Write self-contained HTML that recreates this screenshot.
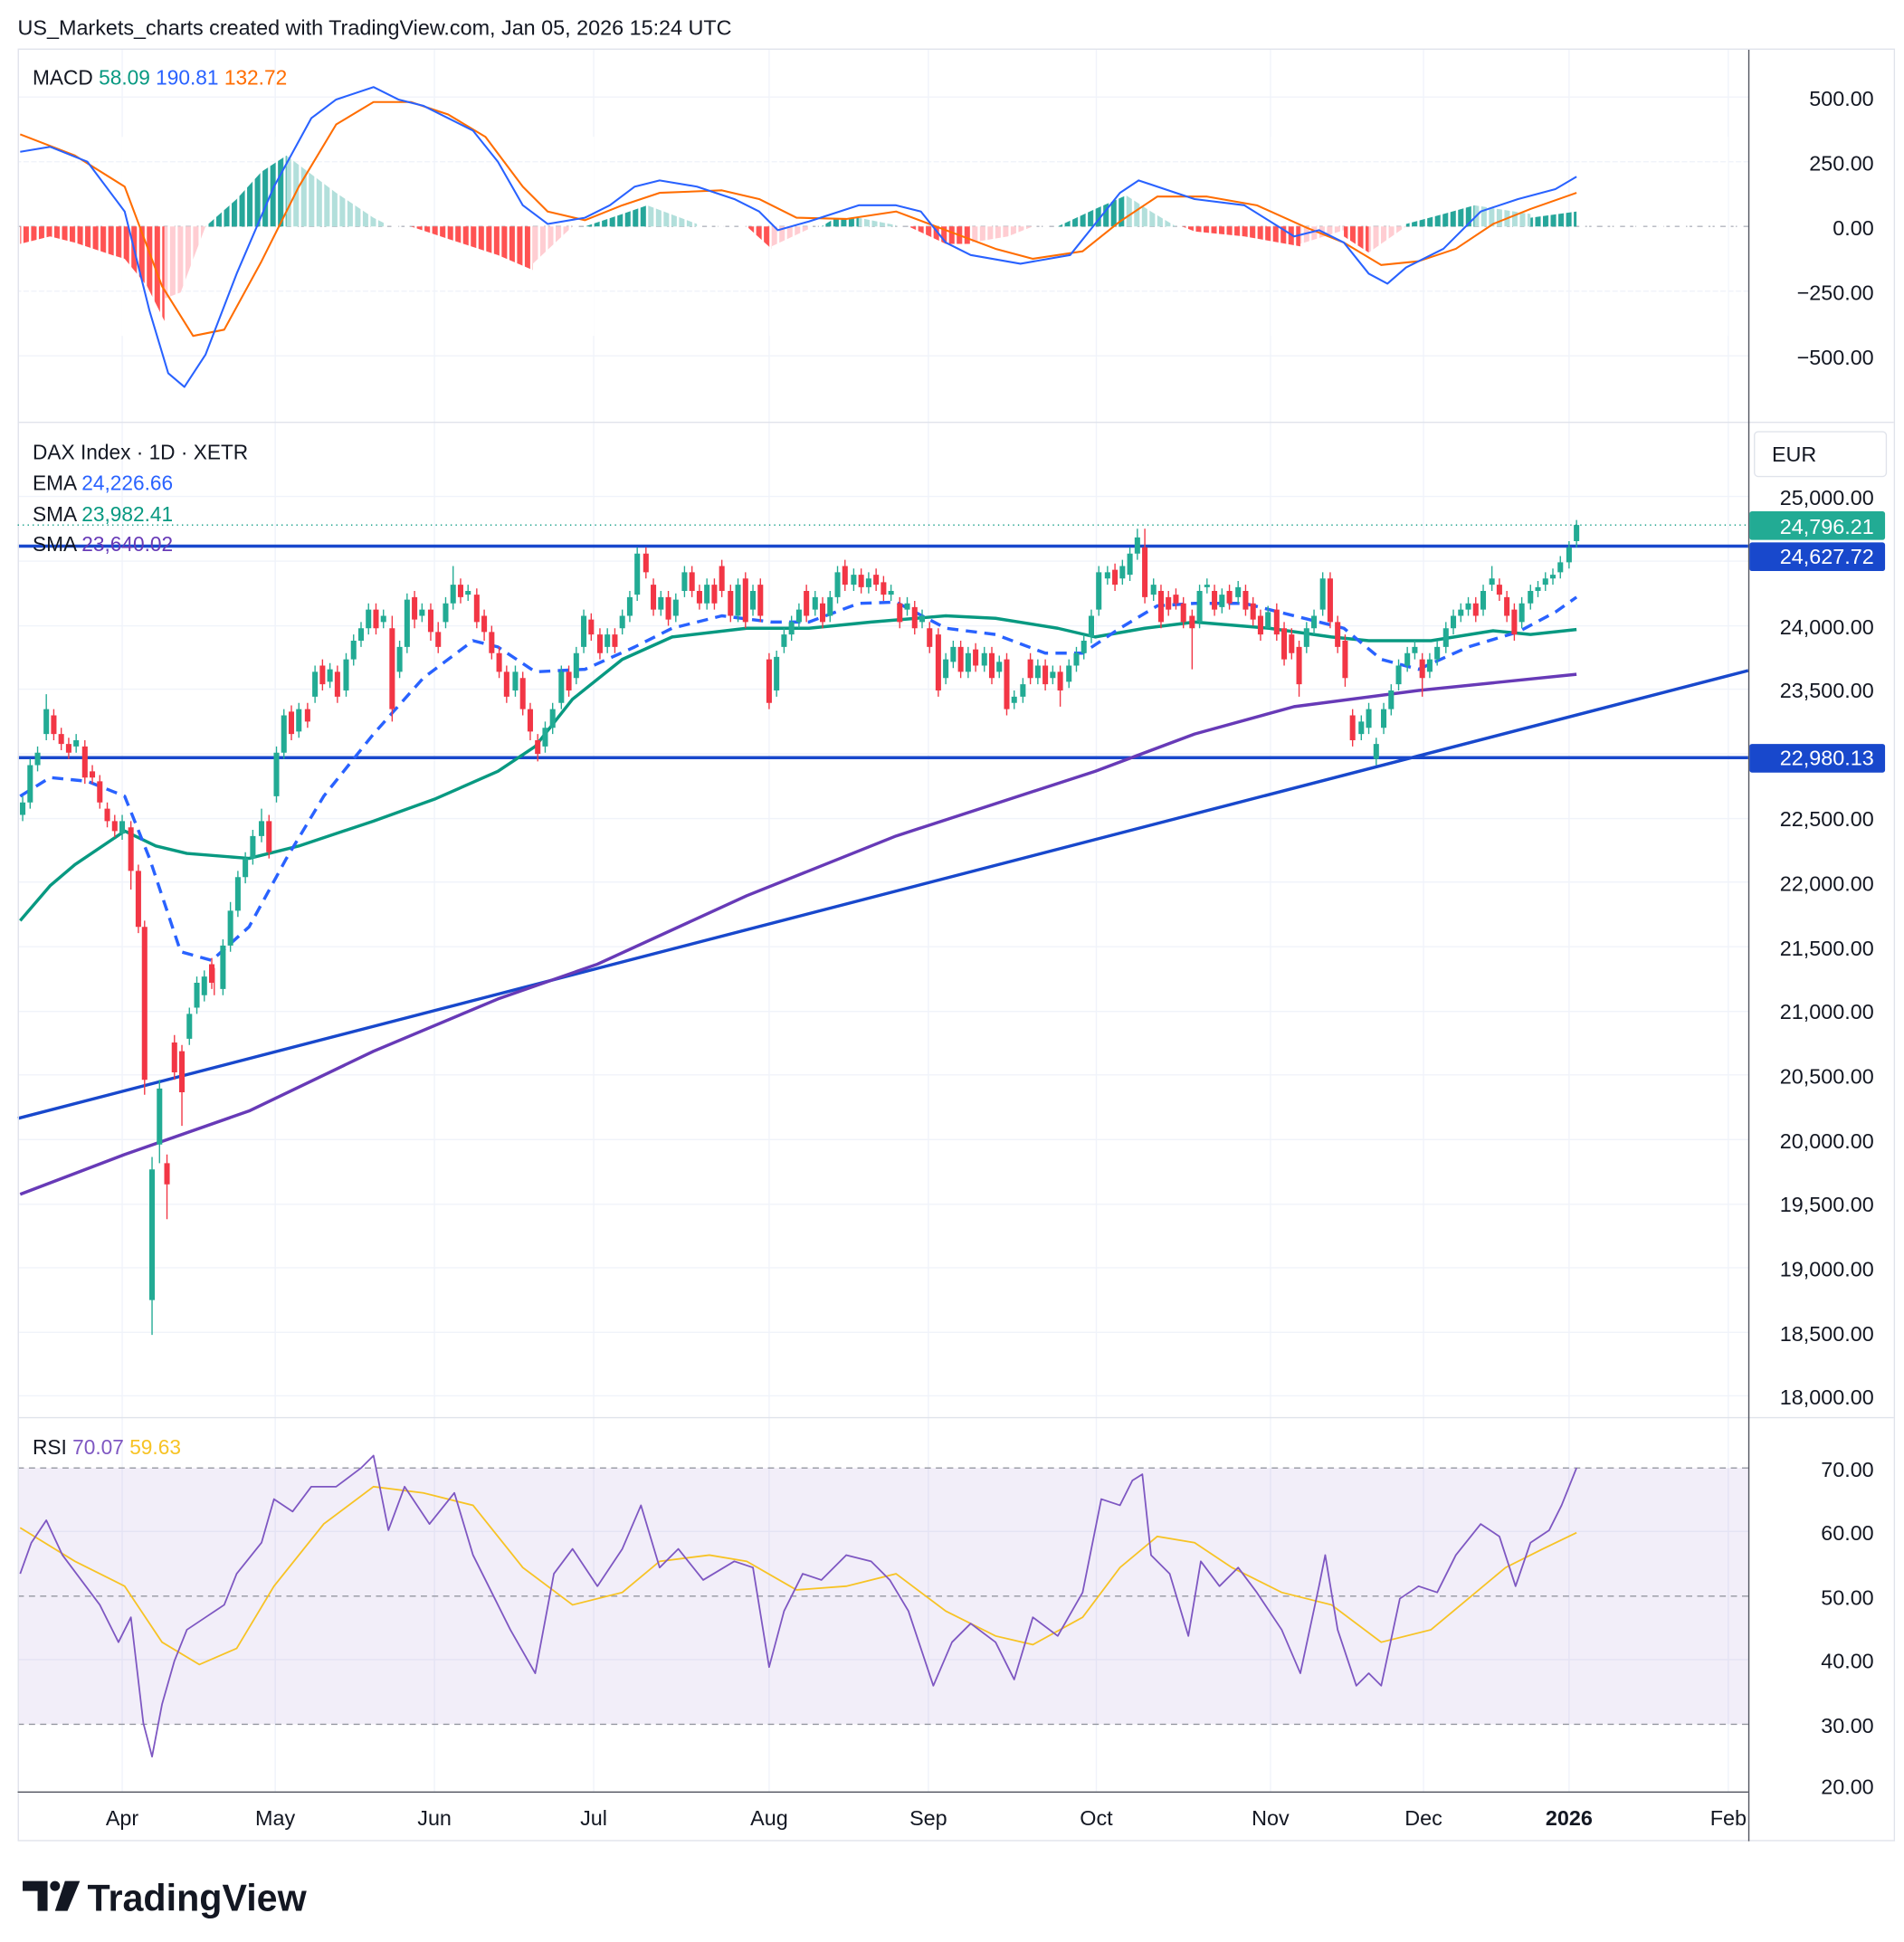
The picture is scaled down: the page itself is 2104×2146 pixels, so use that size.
<!DOCTYPE html>
<html><head><meta charset="utf-8"><style>
html,body{margin:0;padding:0;background:#fff;}
svg{display:block;}
text{font-family:"Liberation Sans",sans-serif;}
</style></head><body>
<svg width="2104" height="2146" viewBox="0 0 1530 1561" xmlns="http://www.w3.org/2000/svg">
<defs>
<pattern id="gap" x="0" y="0" width="6.2" height="10" patternUnits="userSpaceOnUse"><rect x="4.4" y="0" width="1.8" height="10" fill="#fff"/></pattern>
</defs>
<rect width="1530" height="1561" fill="#fff"/>
<g stroke="#f0f3fa" stroke-width="1">
<path d="M98 40V1440M221 40V1440M349 40V1440M477 40V1440M618 40V1440M746 40V1440M881 40V1440M1021 40V1440M1144 40V1440M1261 40V1440M1389 40V1440"/>
<path d="M14 78H1405M14 130H1405M14 234H1405M14 286H1405M14 399H1405M14 451H1405M14 503H1405M14 554H1405M14 606H1405M14 658H1405M14 709H1405M14 761H1405M14 813H1405M14 864H1405M14 916H1405M14 968H1405M14 1019H1405M14 1071H1405M14 1122H1405M14 1231H1405M14 1334H1405"/>
</g>
<rect x="14" y="1180" width="1391" height="206" fill="#7e57c2" fill-opacity="0.1"/>
<g stroke="#9598a1" stroke-dasharray="5,4" stroke-width="1">
<line x1="14" y1="1180" x2="1405" y2="1180"/><line x1="14" y1="1283" x2="1405" y2="1283"/><line x1="14" y1="1386" x2="1405" y2="1386"/>
<line x1="14" y1="182" x2="1405" y2="182" stroke="#b2b5be"/>
</g>
<!-- MACD histogram -->
<g>
<polygon fill="#ff5252" points="16,182 16,196 40,190 60,195 90,205 100,208 118,230 132,258 132,182"/>
<polygon fill="#ffcdd2" points="132,182 132,240 145,235 165,182"/>
<polygon fill="#26a69a" points="165,182 190,160 210,138 230,125 230,182"/>
<polygon fill="#b2dfdb" points="230,182 230,125 250,140 270,155 300,175 310,180 310,182"/>
<polygon fill="#ff5252" points="330,182 360,192 400,205 428,217 428,182"/>
<polygon fill="#ffcdd2" points="428,182 428,212 460,182"/>
<polygon fill="#26a69a" points="470,182 500,172 520,165 520,182"/>
<polygon fill="#b2dfdb" points="520,182 520,165 560,180 560,182"/>
<polygon fill="#ff5252" points="600,182 620,200 620,182"/>
<polygon fill="#ffcdd2" points="620,182 620,198 650,184 650,182"/>
<polygon fill="#26a69a" points="660,182 670,176 690,175 690,182"/>
<polygon fill="#b2dfdb" points="690,182 690,175 720,181 720,182"/>
<polygon fill="#ff5252" points="730,182 760,196 780,196 780,182"/>
<polygon fill="#ffcdd2" points="780,182 780,195 810,190 830,182"/>
<polygon fill="#26a69a" points="850,182 880,168 905,157 905,182"/>
<polygon fill="#b2dfdb" points="905,182 905,157 925,170 945,182"/>
<polygon fill="#ff5252" points="950,182 960,186 1000,190 1045,198 1045,182"/>
<polygon fill="#ffcdd2" points="1045,182 1045,196 1080,185 1080,182"/>
<polygon fill="#ff5252" points="1080,182 1080,190 1100,203 1100,182"/>
<polygon fill="#ffcdd2" points="1100,182 1100,203 1130,182"/>
<polygon fill="#26a69a" points="1130,182 1130,180 1160,172 1185,165 1185,182"/>
<polygon fill="#b2dfdb" points="1185,182 1185,165 1230,172 1230,182"/>
<polygon fill="#26a69a" points="1230,182 1230,175 1267,170 1267,182"/>
<rect x="14" y="110" width="1391" height="160" fill="url(#gap)"/>
</g>
<g fill="none" stroke-linejoin="round">
<polyline stroke="#ff6d00" stroke-width="1.5" points="16,108 60,125 100,150 130,230 155,270 180,265 210,210 240,150 270,100 300,82 330,82 360,92 390,110 420,150 440,170 470,177 500,165 530,155 580,153 610,160 640,175 680,176 720,170 760,185 800,200 830,208 870,202 900,178 930,158 970,158 1010,165 1050,183 1080,195 1110,213 1140,210 1170,200 1200,180 1230,168 1267,155"/>
<polyline stroke="#2962ff" stroke-width="1.5" points="16,122 40,118 70,130 100,170 120,250 135,300 148,311 165,285 190,220 220,150 250,95 270,80 300,70 320,80 340,85 360,95 380,105 400,130 420,165 440,180 470,175 490,165 510,150 530,145 560,150 590,160 610,170 625,185 650,178 690,165 720,165 740,170 760,195 780,205 820,212 860,205 880,180 900,155 915,145 930,150 960,160 1000,165 1040,190 1060,185 1080,195 1100,220 1115,228 1130,215 1160,200 1190,170 1220,160 1250,152 1267,142"/>
<!-- main pane lines -->
<line x1="14" y1="439" x2="1405" y2="439" stroke="#1848cc" stroke-width="2.5"/>
<line x1="14" y1="609" x2="1405" y2="609" stroke="#1848cc" stroke-width="2.5"/>
<line x1="14" y1="899" x2="1405" y2="539" stroke="#1848cc" stroke-width="2.5"/>
<polyline stroke="#673ab7" stroke-width="2.5" points="16,960 100,928 200,893 300,845 400,803 480,775 600,720 720,672 880,620 960,590 1040,568 1140,555 1267,542"/>
<polyline stroke="#089981" stroke-width="2.5" points="16,740 40,712 60,695 100,668 125,680 150,686 200,690 240,680 300,660 350,642 400,620 430,600 460,562 500,530 540,512 600,505 650,505 700,500 760,495 800,497 850,505 880,512 920,505 960,500 1020,505 1070,512 1100,515 1150,515 1200,507 1230,510 1267,506"/>
<polyline stroke="#2962ff" stroke-width="2.5" stroke-dasharray="9,6" points="16,640 40,625 70,628 100,640 120,690 145,765 170,772 200,745 230,690 260,640 300,590 340,545 380,515 400,520 430,540 470,538 510,520 540,505 580,495 620,500 650,500 690,485 720,484 760,505 800,510 840,525 870,525 900,505 930,487 960,485 1000,485 1040,495 1080,505 1110,530 1140,538 1180,520 1220,508 1250,492 1267,480"/>
</g>
<!-- candles: wicks -->
<path stroke="#22ab94" stroke-width="1" fill="none" d="M18 640V660M24 610V650M30 600V620M37 558V595M61 590V605M98 655V675M122 930V1073M128 868V935M152 810V840M158 785V815M164 780V805M179 755V800M185 725V765M191 700V737M197 685V710M203 667V695M210 650V677M222 600V645M228 570V610M240 565V593M253 535V565M265 533V553M278 525V560M284 510V535M290 500V520M296 485V510M308 490V505M321 515V545M327 477V525M339 485V500M358 480V505M364 455V490M376 470V483M414 535V560M438 580V605M444 565V590M451 535V570M463 520V550M469 490V525M488 505V525M500 490V510M506 475V500M512 440V483M531 475V495M543 477V500M550 455V480M568 465V490M593 465V500M605 470V495M624 523V560M630 505V525M636 495V515M642 485V505M655 475V495M667 475V500M673 455V485M686 457V475M698 460V477M716 470V483M729 480V495M741 490V505M760 525V550M766 515V537M778 520V545M791 520V540M803 527V545M815 555V570M822 545V565M834 530V550M846 535V550M859 530V553M865 520V540M871 510V530M877 490V517M883 455V495M890 455V470M902 450V470M908 440V467M914 425V450M927 465V483M964 470V505M970 465V477M982 473V493M995 467V485M1019 487V500M1050 500V525M1056 490V510M1063 460V495M1094 575V595M1100 565V590M1106 593V615M1112 565V590M1118 550V575M1124 530V555M1131 520V540M1137 515V530M1149 525V545M1155 515V535M1162 500V525M1168 490V510M1174 485V500M1180 480V495M1192 470V495M1199 455V475M1223 480V505M1230 470V490M1236 467V480M1242 460V475M1248 457V470M1254 447V465M1261 435V457M1267 418V440"/>
<path stroke="#f23645" stroke-width="1" fill="none" d="M43 570V595M49 585V603M55 593V610M68 595V630M74 615V630M80 623V650M86 645V665M92 655V673M105 660V715M111 695V750M116 740V880M134 928V980M140 832V868M146 840V905M170 770V795M172 778V800M216 655V690M234 567V595M247 565V585M259 530V555M271 535V565M302 485V510M315 495V580M333 475V505M346 485V515M352 500V525M370 465V485M383 473V505M389 490V515M395 503V530M401 520V545M407 535V565M420 540V575M426 565V595M432 590V612M457 535V560M475 493V515M482 505V530M494 505V525M519 440V465M525 465V495M537 475V503M556 455V480M562 470V490M574 465V490M580 450V480M587 470V500M599 460V505M611 465V500M618 525V570M648 470V500M661 480V505M679 450V475M692 457V477M704 457V475M710 463V483M723 480V505M735 483V510M747 500V525M754 505V560M772 515V545M784 517V540M797 520V550M809 525V575M828 525V550M840 530V555M852 535V568M896 453V475M920 425V485M933 470V505M939 475V495M945 473V490M951 480V505M958 490V538M976 470V495M988 470V490M1001 470V495M1007 480V503M1013 490V515M1026 485V515M1032 500V535M1038 505V530M1044 515V560M1069 460V505M1075 495V525M1081 510V552M1087 570V600M1143 525V560M1186 480V500M1205 465V483M1211 475V500M1217 485V515"/>
<!-- bodies -->
<path stroke="#22ab94" stroke-width="4.4" fill="none" d="M18 655V645M24 645V615M30 615V605M37 590V570M61 600V595M98 670V660M122 1045V940M128 920V875M152 835V815M158 810V790M164 800V785M179 795V760M185 760V732M191 732V705M197 705V690M203 690V672M210 672V660M222 640V605M228 605V575M240 588V570M253 560V540M265 548V538M278 555V530M284 530V515M290 515V505M296 505V490M308 500V495M321 540V520M327 520V482M339 495V490M358 500V485M364 485V470M376 478V475M414 555V540M438 600V585M444 585V570M451 565V540M463 545V525M469 520V495M488 520V510M500 505V495M506 495V480M512 478V445M531 490V480M543 495V482M550 475V460M568 485V470M593 495V470M605 490V475M624 555V528M630 520V510M636 510V500M642 500V490M655 490V480M667 495V480M673 480V460M686 470V462M698 472V465M716 478V475M729 490V485M741 500V495M760 545V530M766 532V520M778 540V525M791 535V525M803 540V532M815 565V560M822 560V550M834 545V535M846 545V540M859 548V535M865 535V525M871 525V515M877 512V495M883 490V460M890 465V460M902 465V455M908 462V445M914 445V432M927 478V470M964 500V475M970 472V470M982 488V478M995 480V472M1019 505V492M1050 520V505M1056 505V495M1063 490V465M1094 590V580M1100 585V570M1106 610V598M1112 585V570M1118 570V555M1124 550V535M1131 535V525M1137 525V520M1149 540V530M1155 530V520M1162 520V505M1168 505V495M1174 495V490M1180 490V485M1192 490V475M1199 470V465M1223 500V485M1230 485V475M1236 475V472M1242 470V465M1248 465V462M1254 460V452M1261 452V440M1267 435V422"/>
<path stroke="#f23645" stroke-width="4.4" fill="none" d="M43 575V590M49 590V598M55 598V605M68 600V625M74 620V625M80 628V645M86 650V660M92 660V668M105 665V700M111 700V745M116 745V868M134 935V952M140 838V862M146 845V878M170 775V790M216 660V685M234 572V590M247 570V580M259 535V550M271 540V560M302 490V505M315 505V570M333 480V498M346 490V508M352 508V520M370 470V480M383 478V500M389 495V508M395 508V525M401 525V540M407 540V560M420 545V570M426 570V588M432 595V606M457 540V555M475 498V510M482 510V525M494 510V520M519 445V460M525 470V490M537 480V498M556 460V475M562 475V485M574 470V485M580 455V475M587 475V495M599 465V500M611 470V495M618 530V565M648 475V495M661 485V500M679 455V470M692 462V472M704 462V470M710 468V478M723 485V500M735 488V505M747 505V520M754 510V555M772 520V540M784 522V535M797 525V545M809 530V570M828 530V545M840 535V550M852 540V555M896 458V470M920 440V480M933 475V500M939 480V490M945 478V485M951 485V500M958 495V505M976 475V490M988 475V485M1001 475V490M1007 485V498M1013 495V510M1026 490V510M1032 505V530M1038 510V525M1044 520V550M1069 465V500M1075 500V520M1081 515V545M1087 575V595M1143 530V545M1186 485V495M1205 470V478M1211 480V495M1217 490V510"/>
<!-- RSI -->
<polyline fill="none" stroke="#f7c325" stroke-width="1.3" points="16,1228 60,1255 100,1275 130,1320 160,1338 190,1325 220,1275 260,1225 300,1195 340,1200 380,1210 420,1260 460,1290 500,1280 530,1255 570,1250 600,1255 640,1278 680,1275 720,1265 760,1295 800,1315 830,1322 870,1300 900,1260 930,1235 960,1240 990,1260 1030,1280 1070,1290 1110,1320 1150,1310 1180,1285 1210,1260 1240,1245 1267,1232"/>
<polyline fill="none" stroke="#7e57c2" stroke-width="1.3" stroke-linejoin="round" points="16,1265 25,1240 37,1222 50,1250 65,1270 80,1290 95,1320 105,1300 115,1385 122,1412 130,1370 140,1335 150,1310 165,1300 180,1290 190,1265 210,1240 220,1205 235,1215 250,1195 270,1195 290,1180 300,1170 312,1230 325,1195 345,1225 365,1200 380,1250 395,1280 410,1310 430,1345 445,1265 460,1245 480,1275 500,1245 515,1210 530,1260 545,1245 565,1270 590,1255 605,1260 618,1340 630,1295 645,1265 660,1270 680,1250 700,1255 715,1270 730,1295 750,1355 765,1320 780,1305 800,1320 815,1350 830,1300 850,1315 870,1280 885,1205 900,1210 910,1190 918,1185 925,1250 940,1265 955,1315 965,1255 980,1275 995,1260 1010,1280 1030,1310 1045,1345 1060,1275 1065,1250 1075,1310 1090,1355 1100,1345 1110,1355 1125,1285 1140,1275 1155,1280 1170,1250 1190,1225 1205,1235 1218,1275 1230,1240 1245,1230 1255,1210 1267,1180"/>
<!-- frame -->
<g stroke="#e0e3eb" stroke-width="1" fill="none">
<rect x="14.5" y="39.5" width="1508" height="1440"/>
<line x1="14" y1="339.5" x2="1522" y2="339.5"/><line x1="14" y1="1139.5" x2="1522" y2="1139.5"/>
</g>
<line x1="1405.5" y1="40" x2="1405.5" y2="1480" stroke="#50535e" stroke-width="1"/>
<line x1="14" y1="1440.5" x2="1405" y2="1440.5" stroke="#50535e" stroke-width="1"/>
<text x="14" y="28" font-size="17" fill="#131722">US_Markets_charts created with TradingView.com, Jan 05, 2026 15:24 UTC</text>
<g font-size="16.5">
<text x="26" y="68" fill="#131722">MACD <tspan fill="#089981">58.09</tspan> <tspan fill="#2962ff">190.81</tspan> <tspan fill="#ff6d00">132.72</tspan></text>
<text x="26" y="369" fill="#131722">DAX Index · 1D · XETR</text>
<text x="26" y="394" fill="#131722">EMA <tspan fill="#2962ff">24,226.66</tspan></text>
<text x="26" y="419" fill="#131722">SMA <tspan fill="#089981">23,982.41</tspan></text>
<text x="26" y="443" fill="#131722">SMA <tspan fill="#673ab7">23,640.02</tspan></text>
<text x="26" y="1169" fill="#131722">RSI <tspan fill="#7e57c2">70.07</tspan> <tspan fill="#f7c325">59.63</tspan></text>
</g>
<g font-size="17" fill="#131722" text-anchor="end">
<text x="1506" y="85">500.00</text><text x="1506" y="137">250.00</text><text x="1506" y="189">0.00</text><text x="1506" y="241">−250.00</text><text x="1506" y="293">−500.00</text>
<text x="1506" y="406">25,000.00</text><text x="1506" y="510">24,000.00</text><text x="1506" y="561">23,500.00</text><text x="1506" y="664">22,500.00</text><text x="1506" y="716">22,000.00</text><text x="1506" y="768">21,500.00</text><text x="1506" y="819">21,000.00</text><text x="1506" y="871">20,500.00</text><text x="1506" y="923">20,000.00</text><text x="1506" y="974">19,500.00</text><text x="1506" y="1026">19,000.00</text><text x="1506" y="1078">18,500.00</text><text x="1506" y="1129">18,000.00</text>
<text x="1506" y="1187">70.00</text><text x="1506" y="1238">60.00</text><text x="1506" y="1290">50.00</text><text x="1506" y="1341">40.00</text><text x="1506" y="1393">30.00</text><text x="1506" y="1442">20.00</text>
</g>
<rect x="1410" y="347" width="106" height="36" fill="#fff" stroke="#e0e3eb" rx="3"/>
<text x="1424" y="371" font-size="17" fill="#131722">EUR</text>
<line x1="14" y1="422" x2="1405" y2="422" stroke="#089981" stroke-dasharray="1,3"/>
<rect x="1406" y="411" width="109" height="23" fill="#22ab94" rx="2"/><text x="1506" y="429" font-size="17" fill="#fff" text-anchor="end">24,796.21</text>
<rect x="1406" y="436" width="109" height="23" fill="#1848cc" rx="2"/><text x="1506" y="453" font-size="17" fill="#fff" text-anchor="end">24,627.72</text>
<rect x="1406" y="598" width="109" height="23" fill="#1848cc" rx="2"/><text x="1506" y="615" font-size="17" fill="#fff" text-anchor="end">22,980.13</text>
<g font-size="17" fill="#131722" text-anchor="middle">
<text x="98" y="1467">Apr</text><text x="221" y="1467">May</text><text x="349" y="1467">Jun</text><text x="477" y="1467">Jul</text><text x="618" y="1467">Aug</text><text x="746" y="1467">Sep</text><text x="881" y="1467">Oct</text><text x="1021" y="1467">Nov</text><text x="1144" y="1467">Dec</text><text x="1261" y="1467" font-weight="bold">2026</text><text x="1389" y="1467">Feb</text>
</g>
<g fill="#131722">
<path d="M18 1512h20v24h-8v-16h-12z"/><circle cx="44" cy="1516" r="4"/><path d="M52 1512h12l-10 24h-10z"/>
<text x="70" y="1536" font-size="30" font-weight="bold">TradingView</text>
</g>
</svg>
</body></html>
